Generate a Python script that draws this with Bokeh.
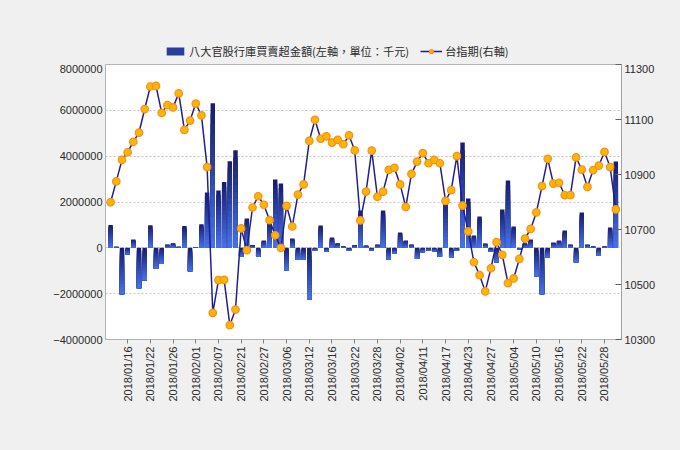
import numpy as np
from bokeh.plotting import figure
from bokeh.layouts import column
from bokeh.models import (Range1d, LinearAxis, FixedTicker, BasicTickFormatter,
                          Legend, LegendItem, ColumnDataSource)
from bokeh.embed import file_html
from bokeh.resources import INLINE

# ---------------- data ----------------
dates = ["2018/01/11", "2018/01/12", "2018/01/15", "2018/01/16", "2018/01/17", "2018/01/18", "2018/01/19",
         "2018/01/22", "2018/01/23", "2018/01/24", "2018/01/25", "2018/01/26", "2018/01/29", "2018/01/30",
         "2018/01/31", "2018/02/01", "2018/02/02", "2018/02/05", "2018/02/06", "2018/02/07", "2018/02/08",
         "2018/02/09", "2018/02/12", "2018/02/21", "2018/02/22", "2018/02/23", "2018/02/26", "2018/02/27",
         "2018/03/01", "2018/03/02", "2018/03/05", "2018/03/06", "2018/03/07", "2018/03/08", "2018/03/09",
         "2018/03/12", "2018/03/13", "2018/03/14", "2018/03/15", "2018/03/16", "2018/03/19", "2018/03/20",
         "2018/03/21", "2018/03/22", "2018/03/23", "2018/03/26", "2018/03/27", "2018/03/28", "2018/03/29",
         "2018/03/30", "2018/03/31", "2018/04/02", "2018/04/03", "2018/04/09", "2018/04/10", "2018/04/11",
         "2018/04/12", "2018/04/13", "2018/04/16", "2018/04/17", "2018/04/18", "2018/04/19", "2018/04/20",
         "2018/04/23", "2018/04/24", "2018/04/25", "2018/04/26", "2018/04/27", "2018/04/30", "2018/05/02",
         "2018/05/03", "2018/05/04", "2018/05/07", "2018/05/08", "2018/05/09", "2018/05/10", "2018/05/11",
         "2018/05/14", "2018/05/15", "2018/05/16", "2018/05/17", "2018/05/18", "2018/05/21", "2018/05/22",
         "2018/05/23", "2018/05/24", "2018/05/25", "2018/05/28", "2018/05/29", "2018/05/30"]

# 八大官股行庫買賣超金額 (千元)
bank_net = [1000000, 50000, -2020000, -280000, 360000, -1760000, -1410000, 990000, -900000, -710000,
            150000, 200000, 50000, 950000, -1020000, 40000, 1030000, 2410000, 6310000, 2500000,
            2870000, 3780000, 4260000, -380000, 1280000, 120000, -380000, 320000, 1160000, 2980000,
            2810000, -990000, 410000, -510000, -510000, -2250000, -120000, 970000, -160000, 450000,
            200000, 60000, -120000, 120000, 1630000, 100000, -120000, 150000, 1630000, -510000,
            -250000, 670000, 320000, 150000, -470000, -190000, -120000, -160000, -380000, 2200000,
            -420000, -120000, 4600000, 2150000, 540000, 1370000, 190000, -160000, -630000, 1670000,
            2940000, 930000, -60000, 200000, 360000, -1240000, -2020000, -410000, 230000, 320000,
            760000, 150000, -630000, 1540000, 150000, 60000, -330000, 60000, 890000, 3770000]

# 台指期
tx_index = [10799, 10875, 10953, 10981, 11019, 11052, 11138, 11220, 11222, 11124,
            11152, 11144, 11195, 11062, 11096, 11158, 11115, 10927, 10397, 10516,
            10517, 10352, 10409, 10704, 10625, 10780, 10821, 10790, 10734, 10679,
            10633, 10786, 10711, 10827, 10864, 11022, 11099, 11030, 11039, 11016,
            11026, 11010, 11042, 10988, 10733, 10838, 10987, 10819, 10838, 10917,
            10924, 10864, 10782, 10902, 10947, 10978, 10941, 10953, 10941, 10804,
            10843, 10967, 10787, 10693, 10581, 10534, 10475, 10559, 10654, 10608,
            10505, 10522, 10593, 10667, 10702, 10762, 10858, 10957, 10867, 10870,
            10825, 10825, 10962, 10918, 10855, 10916, 10932, 10982, 10927, 10773]

left_ticks = [-4000000, -2000000, 0, 2000000, 4000000, 6000000, 8000000]
right_ticks = [10300, 10500, 10700, 10900, 11100, 11300]
label_bar = "八大官股行庫買賣超金額(左軸，單位：千元)"
label_line = "台指期(右軸)"

# ---------------- shared sources ----------------
N = 14
c_top = np.array([0x17, 0x1b, 0x6c], dtype=float)
c_bot = np.array([0x48, 0x72, 0xea], dtype=float)
band = dict(left=[], right=[], top=[], bottom=[], color=[])
bw = 0.39
for i, v in enumerate(bank_net):
    hi, lo = (v, 0) if v >= 0 else (0, v)
    for k in range(N):
        t = hi - (hi - lo) * k / N
        c = c_top + (c_bot - c_top) * (k + 0.5) / N
        band["left"].append(i - bw)
        band["right"].append(i + bw)
        band["top"].append(t)
        band["bottom"].append(lo)
        band["color"].append("#%02x%02x%02x" % tuple(int(round(x)) for x in c))
band_src = ColumnDataSource(band)
line_src = ColumnDataSource(dict(x=list(range(len(dates))), y=tx_index))

TXT = "#2a2a2a"
FONT = "Liberation Sans"
BG = "#f0f0f0"
LINE_KW = dict(line_color="#1f1f8f", line_width=1.5)
MARK_KW = dict(size=7.5, fill_color="#f9b800", line_color="#ff8a1c", line_width=1.2)


def draw(fig, y_range_name="default"):
    b = fig.quad(left="left", right="right", top="top", bottom="bottom", fill_color="color",
                 line_color=None, source=band_src)
    ln = fig.line("x", "y", source=line_src, y_range_name=y_range_name, **LINE_KW)
    sc = fig.scatter("x", "y", source=line_src, y_range_name=y_range_name, **MARK_KW)
    return b, ln, sc


# ---------------- legend strip (top) ----------------
TOP_H = 64
top = figure(width=664, height=TOP_H, output_backend="svg", toolbar_location=None,
             x_range=Range1d(1e4, 2e4), y_range=Range1d(1e9, 2e9),
             x_axis_type=None, y_axis_type=None, min_border=0)
top.background_fill_color = BG
top.border_fill_color = BG
top.outline_line_color = None
top.grid.visible = False
tb, tl, ts = draw(top)
legend = Legend(items=[LegendItem(label=label_bar, renderers=[tb], index=N // 2 - 2),
                       LegendItem(label=label_line, renderers=[tl, ts])],
                orientation="horizontal", location=(59, 5),
                background_fill_alpha=0, border_line_color=None, padding=0, margin=0,
                spacing=11, label_standoff=3, glyph_width=22, glyph_height=10,
                label_height=12, label_text_font="Noto Sans CJK TC",
                label_text_font_size="11.2px", label_text_color=TXT)
top.add_layout(legend)

# ---------------- main chart ----------------
p = figure(width=664, height=434 - TOP_H, output_backend="svg", toolbar_location=None,
           x_range=Range1d(-0.9, len(dates)), y_range=Range1d(left_ticks[0], left_ticks[-1]),
           min_border_left=105, min_border_right=43, min_border_top=0, min_border_bottom=95)
p.background_fill_color = "white"
p.border_fill_color = BG
p.outline_line_color = "#b4b4b4"
p.extra_y_ranges = {"idx": Range1d(right_ticks[0], right_ticks[-1])}
draw(p, "idx")

xt = list(range(3, len(dates), 4))
p.xaxis.ticker = FixedTicker(ticks=xt)
p.xaxis.major_label_overrides = {i: dates[i] for i in xt}
p.xaxis.major_label_orientation = np.pi / 2
p.xaxis.major_tick_out = 4
p.xaxis.major_tick_in = 0
p.xaxis.minor_tick_line_color = None
p.xaxis.major_label_standoff = 3
p.xaxis.axis_line_color = "#b4b4b4"
p.xaxis.major_tick_line_color = "#808080"

p.yaxis.ticker = FixedTicker(ticks=left_ticks)
p.yaxis.formatter = BasicTickFormatter(use_scientific=False)
p.yaxis.major_tick_out = 0
p.yaxis.major_tick_in = 0
p.yaxis.minor_tick_line_color = None
p.yaxis.major_label_standoff = 3
p.yaxis.axis_line_color = "#b4b4b4"

ax_r = LinearAxis(y_range_name="idx", ticker=FixedTicker(ticks=right_ticks))
ax_r.major_tick_in = 6
ax_r.major_tick_out = 0
ax_r.minor_tick_line_color = None
ax_r.major_label_standoff = 3
ax_r.axis_line_color = "#a0a0a0"
ax_r.major_tick_line_color = "#606060"
p.add_layout(ax_r, "right")

for ax in [p.xaxis[0], p.yaxis[0], ax_r]:
    ax.major_label_text_font = FONT
    ax.major_label_text_font_size = "11px"
    ax.major_label_text_color = TXT

p.xgrid.visible = False
p.ygrid.grid_line_color = "#c4c4c4"
p.ygrid.grid_line_dash = "2 2"

layout = column(top, p, spacing=0)
html = file_html(layout, INLINE)
html = html.replace("<body>", '<body style="background-color:#f0f0f0">')
open("out.html", "w").write(html)
